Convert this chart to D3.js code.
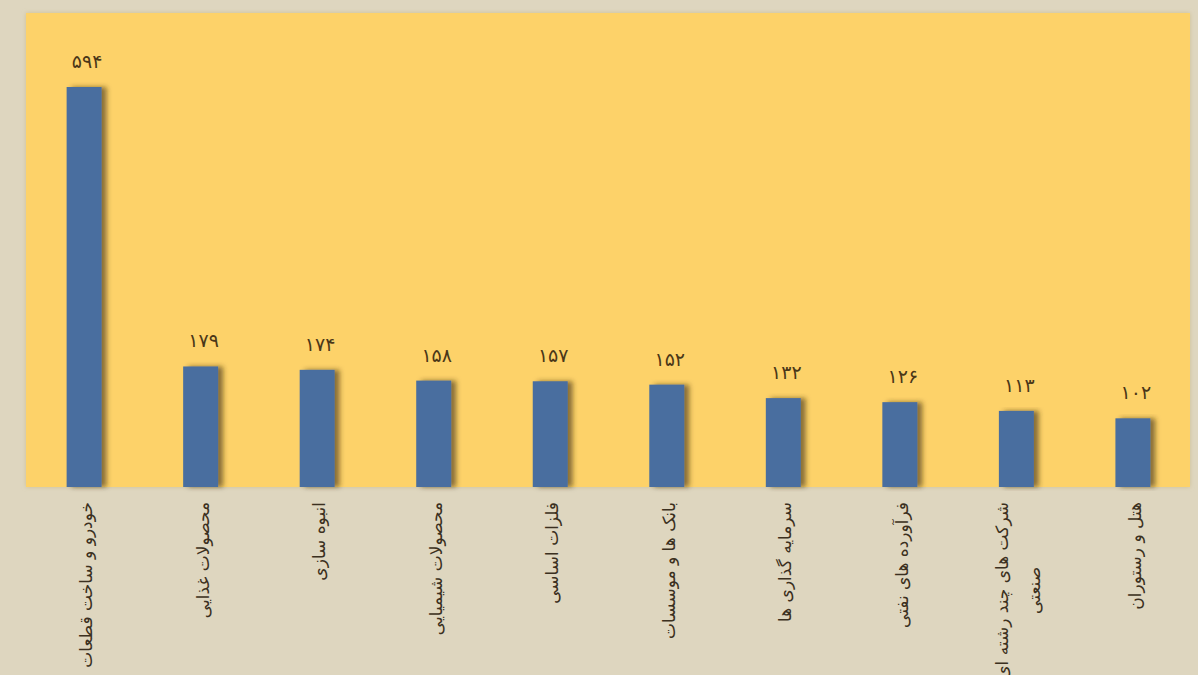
<html lang="fa">
<head>
<meta charset="utf-8">
<title>Bar chart</title>
<style>
  body { margin: 0; background: #ded6bf; }
  svg { display: block; }
  .value { font-family: "DejaVu Sans", sans-serif; font-size: 19px; fill: #4a3718; letter-spacing: 5px; }
  .cat { font-family: "DejaVu Sans", "Noto Sans", sans-serif; font-size: 17px; fill: #3b3020; }
</style>
</head>
<body>
<script src="https://cdnjs.cloudflare.com/ajax/libs/d3/7.8.5/d3.min.js"></script>
<script>
// data
var categories = [
  ["خودرو و ساخت قطعات"],
  ["محصولات غذایی"],
  ["انبوه سازی"],
  ["محصولات شیمیایی"],
  ["فلزات اساسی"],
  ["بانک ها و موسسات"],
  ["سرمایه گذاری ها"],
  ["فرآورده های نفتی"],
  ["شرکت های چند رشته ای", "صنعتی"],
  ["هتل و رستوران"]
];
var values = [594, 179, 174, 158, 157, 152, 132, 126, 113, 102];

var fullWidth = 1198, fullHeight = 675;
var plot = {left: 26, right: 1190, top: 13, bottom: 487};

var svg = d3.select("body").append("svg")
  .attr("width", fullWidth)
  .attr("height", fullHeight);

var defs = svg.append("defs");
var f = defs.append("filter").attr("id", "shadow")
  .attr("x", "-20%").attr("y", "-5%").attr("width", "180%").attr("height", "110%");
f.append("feDropShadow").attr("dx", 5).attr("dy", 0).attr("stdDeviation", 2.5)
  .attr("flood-color", "#3a2a10").attr("flood-opacity", 0.6);

var pf = defs.append("filter").attr("id", "panel")
  .attr("x", "-2%").attr("y", "-2%").attr("width", "104%").attr("height", "104%");
pf.append("feDropShadow").attr("dx", 0).attr("dy", 0).attr("stdDeviation", 2)
  .attr("flood-color", "#c9b98a").attr("flood-opacity", 0.8);

// yellow panel
svg.append("rect")
  .attr("x", plot.left).attr("y", plot.top)
  .attr("width", plot.right - plot.left)
  .attr("height", plot.bottom - plot.top)
  .attr("fill", "#fdd269")
  .attr("filter", "url(#panel)");

var xScale = d3.scaleBand()
  .domain(d3.range(values.length))
  .range([plot.left + 1, plot.right])
  .paddingInner(0.7)
  .paddingOuter(0.34);

var yScale = d3.scaleLinear()
  .domain([0, 594])
  .range([plot.bottom, plot.bottom - 400]);

var toFa = function(n) {
  return String(n).replace(/[0-9]/g, function(c) { return "۰۱۲۳۴۵۶۷۸۹"[+c]; });
};

// bars
svg.selectAll("rect.bar")
  .data(values)
  .enter().append("rect")
  .attr("class", "bar")
  .attr("x", function(d, i) { return xScale(i); })
  .attr("y", function(d) { return yScale(d); })
  .attr("width", xScale.bandwidth())
  .attr("height", function(d) { return plot.bottom - yScale(d); })
  .attr("fill", "#4a6e9f")
  .attr("filter", "url(#shadow)");

// value labels
svg.selectAll("text.value")
  .data(values)
  .enter().append("text")
  .attr("class", "value")
  .attr("x", function(d, i) { return xScale(i) + xScale.bandwidth() / 2 + 3; })
  .attr("y", function(d) { return yScale(d) - 19; })
  .attr("text-anchor", "middle")
  .text(function(d) { return toFa(d); });

// category labels, rotated
var labelTop = plot.bottom + 15;
var lineGap = 32;
categories.forEach(function(lines, i) {
  var cx = xScale(i) + xScale.bandwidth() / 2;
  var g = svg.append("g")
    .attr("transform", "translate(" + (cx - (lines.length - 1) * lineGap / 2 + 2) + "," + labelTop + ") rotate(-90)");
  var texts = lines.map(function(line, k) {
    return g.append("text")
      .attr("class", "cat")
      .attr("x", 0)
      .attr("y", k * lineGap)
      .attr("dy", "0.35em")
      .attr("text-anchor", "end")
      .text(line);
  });
  if (lines.length > 1) {
    var len = texts[0].node().getComputedTextLength();
    texts.forEach(function(t) {
      t.attr("text-anchor", "middle").attr("x", -len / 2);
    });
  }
});
</script>
</body>
</html>
